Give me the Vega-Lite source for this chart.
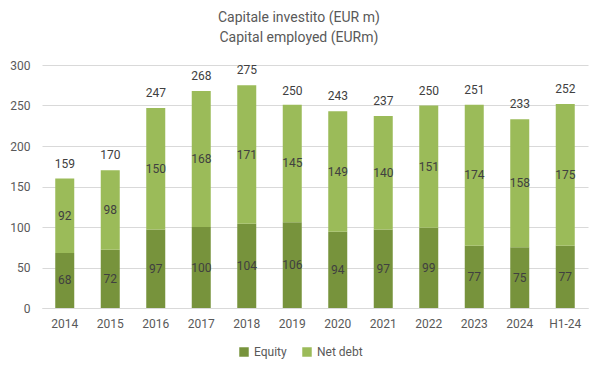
{
  "$schema": "https://vega.github.io/schema/vega-lite/v6.json",
  "width": 546,
  "height": 243,
  "autosize": "none",
  "padding": {"left": 42, "top": 65, "right": 12, "bottom": 66},
  "background": "white",
  "config": {
    "font": "Roboto",
    "view": {"stroke": null},
    "axis": {"labelColor": "#595959", "labelFontSize": 12, "title": null}
  },
  "title": {
    "text": ["Capitale investito (EUR m)", "Capital employed (EURm)"],
    "fontSize": 14,
    "fontWeight": "normal",
    "color": "#595959",
    "anchor": "middle",
    "frame": "bounds",
    "offset": 14,
    "lineHeight": 20
  },
  "datasets": {
    "main": [
      {"year": "2014", "series": "Equity", "value": 68},
      {"year": "2014", "series": "Net debt", "value": 92},
      {"year": "2015", "series": "Equity", "value": 72},
      {"year": "2015", "series": "Net debt", "value": 98},
      {"year": "2016", "series": "Equity", "value": 97},
      {"year": "2016", "series": "Net debt", "value": 150},
      {"year": "2017", "series": "Equity", "value": 100},
      {"year": "2017", "series": "Net debt", "value": 168},
      {"year": "2018", "series": "Equity", "value": 104},
      {"year": "2018", "series": "Net debt", "value": 171},
      {"year": "2019", "series": "Equity", "value": 106},
      {"year": "2019", "series": "Net debt", "value": 145},
      {"year": "2020", "series": "Equity", "value": 94},
      {"year": "2020", "series": "Net debt", "value": 149},
      {"year": "2021", "series": "Equity", "value": 97},
      {"year": "2021", "series": "Net debt", "value": 140},
      {"year": "2022", "series": "Equity", "value": 99},
      {"year": "2022", "series": "Net debt", "value": 151},
      {"year": "2023", "series": "Equity", "value": 77},
      {"year": "2023", "series": "Net debt", "value": 174},
      {"year": "2024", "series": "Equity", "value": 75},
      {"year": "2024", "series": "Net debt", "value": 158},
      {"year": "H1-24", "series": "Equity", "value": 77},
      {"year": "H1-24", "series": "Net debt", "value": 175}
    ],
    "totals": [
      {"year": "2014", "total": 159},
      {"year": "2015", "total": 170},
      {"year": "2016", "total": 247},
      {"year": "2017", "total": 268},
      {"year": "2018", "total": 275},
      {"year": "2019", "total": 250},
      {"year": "2020", "total": 243},
      {"year": "2021", "total": 237},
      {"year": "2022", "total": 250},
      {"year": "2023", "total": 251},
      {"year": "2024", "total": 233},
      {"year": "H1-24", "total": 252}
    ]
  },
  "layer": [
    {
      "data": {"name": "main"},
      "mark": {"type": "bar", "width": 19},
      "encoding": {
        "x": {
          "field": "year", "type": "nominal", "sort": null,
          "axis": {"labelAngle": 0, "ticks": false, "domainColor": "#d9d9d9", "labelPadding": 10}
        },
        "y": {
          "field": "value", "type": "quantitative", "stack": "zero",
          "scale": {"domain": [0, 300]},
          "axis": {"values": [0, 50, 100, 150, 200, 250, 300], "ticks": false, "domain": false, "gridColor": "#d9d9d9", "labelPadding": 12}
        },
        "color": {
          "field": "series", "type": "nominal",
          "scale": {"domain": ["Equity", "Net debt"], "range": ["#77933C", "#9BBB59"]},
          "legend": {
            "orient": "none", "legendX": 196, "legendY": 281, "direction": "horizontal", "title": null,
            "symbolType": "square", "symbolSize": 90, "symbolStrokeWidth": 0,
            "labelColor": "#595959", "labelFontSize": 12, "columnPadding": 14
          }
        },
        "order": {"field": "series", "sort": "ascending"}
      }
    },
    {
      "data": {"name": "main"},
      "transform": [
        {"stack": "value", "groupby": ["year"], "sort": [{"field": "series", "order": "ascending"}], "as": ["v0", "v1"]},
        {"calculate": "(datum.v0 + datum.v1) / 2", "as": "mid"}
      ],
      "mark": {"type": "text", "fontSize": 12, "color": "#404040", "baseline": "middle"},
      "encoding": {
        "x": {"field": "year", "type": "nominal", "sort": null},
        "y": {"field": "mid", "type": "quantitative"},
        "text": {"field": "value", "type": "quantitative"}
      }
    },
    {
      "data": {"name": "totals"},
      "mark": {"type": "text", "fontSize": 12, "color": "#404040", "baseline": "bottom", "dy": -8},
      "encoding": {
        "x": {"field": "year", "type": "nominal", "sort": null},
        "y": {"field": "total", "type": "quantitative"},
        "text": {"field": "total", "type": "quantitative"}
      }
    }
  ]
}
